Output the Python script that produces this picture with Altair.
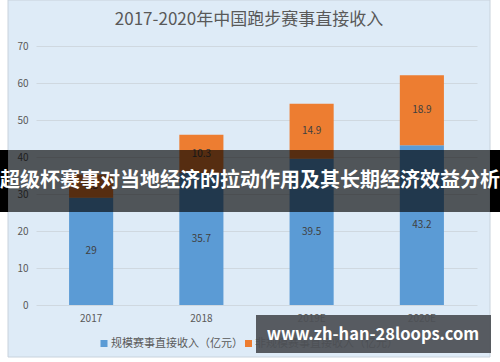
import altair as alt
import pandas as pd

years = ["2017", "2018", "2019E", "2020E"]
scale_rev = [29, 35.7, 39.5, 43.2]
nonscale_rev = [6.3, 10.3, 14.9, 18.9]
series_names = ["规模赛事直接收入（亿元）", "非规模赛事直接收入（亿元）"]
series_colors = ["#5B9BD5", "#ED7D31"]
y_ticks = [0, 10, 20, 30, 40, 50, 60, 70]
title_text = "2017-2020年中国跑步赛事直接收入"
banner_text = "超级杯赛事对当地经济的拉动作用及其长期经济效益分析"
watermark_text = "www.zh-han-28loops.com"

rows = []
for i, yr in enumerate(years):
    a, b = scale_rev[i], nonscale_rev[i]
    rows.append(dict(year=yr, series=series_names[0], start=0, end=a, mid=a / 2, label=f"{a:g}", k=0))
    rows.append(dict(year=yr, series=series_names[1], start=a, end=a + b, mid=a + b / 2, label=f"{b:g}", k=1))
df = pd.DataFrame(rows)

CJK = "Noto Sans CJK SC"
L, T = 36, 46  # plot origin in page pixels


def rx(v):
    return v - L


def ry(v):
    return v - T


xaxis = alt.Axis(title=None, labelAngle=0, domain=False, ticks=False,
                 labelColor="#595959", labelFontSize=10, labelPadding=8,
                 labelFont=CJK, grid=False, labelOverlap=False)
yaxis = alt.Axis(title=None, values=y_ticks, domain=False, ticks=False,
                 labelColor="#595959", labelFontSize=10, labelPadding=8,
                 labelFont=CJK, grid=True, gridColor="#CFD8E0", gridWidth=1,
                 labelOverlap=False, labelBound=False)
xscale = alt.Scale(paddingInner=0.6, paddingOuter=0.3)
yscale = alt.Scale(domain=[0, 70], nice=False)

bars = alt.Chart(df).mark_bar().encode(
    x=alt.X("year:N", sort=years, scale=xscale, axis=xaxis),
    y=alt.Y("start:Q", scale=yscale, axis=yaxis),
    y2="end:Q",
    color=alt.Color("series:N", scale=alt.Scale(domain=series_names, range=series_colors), legend=None),
)

labels = alt.Chart(df).mark_text(fontSize=10, color="#404040", font=CJK).encode(
    x=alt.X("year:N", sort=years, scale=xscale, axis=xaxis),
    y=alt.Y("mid:Q", scale=yscale, axis=yaxis),
    text="label:N",
)

one = pd.DataFrame({"a": [0]})


def rect(x1, y1, x2, y2, **kw):
    return alt.Chart(one).mark_rect(**kw).encode(
        x=alt.value(rx(x1)), x2=alt.value(rx(x2)), y=alt.value(ry(y1)), y2=alt.value(ry(y2)))


def label(txt, x, y, **kw):
    return alt.Chart(one).mark_text(**kw).encode(
        x=alt.value(rx(x)), y=alt.value(ry(y)), text=alt.value(txt))


layers = [bars, labels]
# white page margins outside the chart box
layers.append(rect(0, 0, 8, 362, color="white"))
layers.append(rect(490, 0, 500, 362, color="white"))
layers.append(rect(0, 357, 500, 362, color="white"))
layers.append(rect(8, 0, 490, 357, fillOpacity=0, stroke="#C8D2DC", strokeWidth=1))
# title
layers.append(label(title_text, 249, 20, font=CJK, fontSize=17, color="#595959", align="center", baseline="middle"))
# legend
leg_sq_x = [104, 248.5]
leg_tx_x = [111, 255]
for i in range(2):
    layers.append(alt.Chart(one).mark_square(size=49, opacity=1, color=series_colors[i]).encode(
        x=alt.value(rx(leg_sq_x[i])), y=alt.value(ry(343.5))))
    layers.append(label(series_names[i], leg_tx_x[i], 343.5, font=CJK, fontSize=11, color="#595959",
                        align="left", baseline="middle"))
# banner
layers.append(rect(8, 150, 490, 212, color="#000000", opacity=0.64))
layers.append(rect(0, 150, 8, 212, color="#000000"))
layers.append(rect(490, 150, 500, 212, color="#000000"))
layers.append(label(banner_text, 250, 181, font=CJK, fontSize=20, fontWeight="bold", color="white",
                    align="center", baseline="middle"))
# watermark
layers.append(rect(256, 315, 491, 353, color="#4C5055", opacity=0.93))
layers.append(label(watermark_text, 373, 335, font=CJK, fontSize=16.5, fontWeight="bold", color="white",
                    align="center", baseline="middle"))

chart = alt.layer(*layers).properties(
    width=441, height=259,
    padding={"left": 36, "top": 46, "right": 23, "bottom": 57},
    autosize=alt.AutoSizeParams(type="none"),
    background="#DEEBF7",
).configure_view(strokeWidth=0)

chart.save("out.html", embed_options={"renderer": "svg", "actions": False})
